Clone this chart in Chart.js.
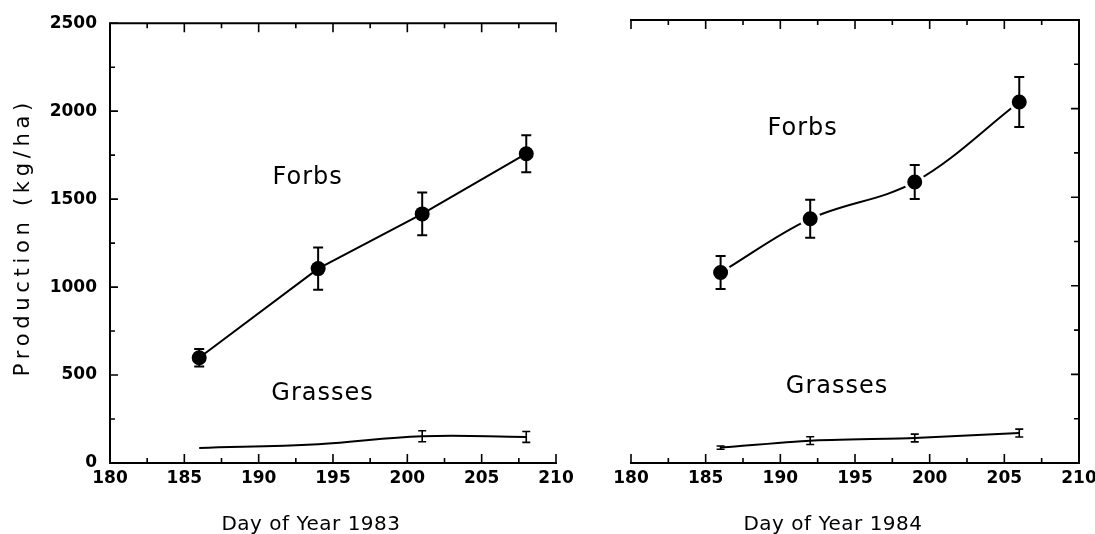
<!DOCTYPE html>
<html><head><meta charset="utf-8">
<script src="https://cdn.jsdelivr.net/npm/chart.js@4.4.1/dist/chart.umd.min.js"></script>
<style>
html,body{margin:0;padding:0;background:#fff;}
#wrap{position:relative;width:1095px;height:534px;overflow:hidden;}
canvas{position:absolute;top:0;}
</style></head><body>
<div id="wrap">
<canvas id="c1" width="580" height="534" style="left:0;width:580px;height:534px"></canvas>
<canvas id="c2" width="545" height="534" style="left:580px;width:545px;height:534px"></canvas>
</div>
<script>
// ---- data ----
const days1983 = [186, 194, 201, 208];
const forbs1983 = [598, 1105, 1416, 1758];
const forbsErr1983 = [50, 120, 122, 105];
const grasses1983 = [85, 107, 152, 148];
const grassesErr1983 = [0, 0, 31, 31];

const days1984 = [186, 192, 199, 206];
const forbs1984 = [1075, 1378, 1586, 2037];
const forbsErr1984 = [93, 107, 96, 141];
const grasses1984 = [87, 126, 141, 169];
const grassesErr1984 = [9, 22, 22, 22];

const xTickLabels = [180, 185, 190, 195, 200, 205, 210];
const yTickLabels = [0, 500, 1000, 1500, 2000, 2500];

const seriesNames = ['Forbs', 'Grasses'];
const xTitles = ['Day of Year 1983', 'Day of Year 1984'];
const yTitle = 'Production (kg/ha)';

// ---- helpers ----
const pts = (xs, ys) => xs.map((d, i) => ({x: d, y: ys[i]}));
const FONT = '"DejaVu Sans", sans-serif';

const errorBars = {
  id: 'errorBars',
  afterDatasetsDraw(chart) {
    const {ctx, scales: {x, y}} = chart;
    ctx.save();
    ctx.strokeStyle = '#000';
    chart.data.datasets.forEach(ds => {
      if (!ds.err) return;
      ctx.lineWidth = ds.errWidth;
      ds.data.forEach((p, i) => {
        const e = ds.err[i];
        if (!e) return;
        const px = x.getPixelForValue(p.x);
        const t = y.getPixelForValue(p.y + e), b = y.getPixelForValue(p.y - e);
        const c = ds.capHalf;
        ctx.beginPath();
        ctx.moveTo(px, t); ctx.lineTo(px, b);
        ctx.moveTo(px - c, t); ctx.lineTo(px + c, t);
        ctx.moveTo(px - c, b); ctx.lineTo(px + c, b);
        ctx.stroke();
      });
    });
    ctx.restore();
  }
};

const frame = {
  id: 'frame',
  afterDraw(chart, args, o) {
    const {ctx, chartArea: a, scales: {x, y}} = chart;
    ctx.save();
    ctx.strokeStyle = '#000';
    ctx.lineWidth = 2;
    ctx.lineCap = 'square';
    ctx.beginPath();
    ctx.moveTo(a.left, a.top); ctx.lineTo(a.right, a.top);
    ctx.moveTo(a.left, a.bottom); ctx.lineTo(a.right, a.bottom);
    const sx = o.side === 'left' ? a.left : a.right;
    ctx.moveTo(sx, a.top); ctx.lineTo(sx, a.bottom);
    ctx.stroke();
    ctx.lineWidth = 1.6;
    ctx.lineCap = 'butt';
    ctx.beginPath();
    const xt = xTickLabels;
    for (let i = 0; i < xt.length; i++) {
      const px = x.getPixelForValue(xt[i]);
      ctx.moveTo(px, a.bottom); ctx.lineTo(px, a.bottom - 9);
      ctx.moveTo(px, a.top); ctx.lineTo(px, a.top + 9);
      if (i < xt.length - 1) {
        const m = x.getPixelForValue((xt[i] + xt[i + 1]) / 2);
        ctx.moveTo(m, a.bottom); ctx.lineTo(m, a.bottom - 5);
        ctx.moveTo(m, a.top); ctx.lineTo(m, a.top + 5);
      }
    }
    const yt = yTickLabels;
    const dir = o.side === 'left' ? 1 : -1;
    for (let i = 0; i < yt.length; i++) {
      const py = y.getPixelForValue(yt[i]);
      ctx.moveTo(sx, py); ctx.lineTo(sx + dir * 8, py);
      if (i < yt.length - 1) {
        const m = y.getPixelForValue((yt[i] + yt[i + 1]) / 2);
        ctx.moveTo(sx, m); ctx.lineTo(sx + dir * 5, m);
      }
    }
    ctx.stroke();
    ctx.restore();
  }
};

const texts = {
  id: 'texts',
  afterDraw(chart, args, o) {
    const {ctx, chartArea: a, scales: {x, y}} = chart;
    ctx.save();
    ctx.fillStyle = '#000';
    ctx.textAlign = 'center';
    ctx.textBaseline = 'alphabetic';
    ctx.font = '24px ' + FONT;
    ctx.letterSpacing = '1px';
    o.labels.forEach(l => {
      ctx.fillText(l.text, x.getPixelForValue(l.x), y.getPixelForValue(l.y));
    });
    ctx.font = '20px ' + FONT;
    ctx.letterSpacing = '0.5px';
    ctx.fillText(o.xTitle, (a.left + a.right) / 2 - 22, 530);
    if (o.yTitle) {
      ctx.font = '21px ' + FONT;
      ctx.translate(29, (a.top + a.bottom) / 2 - 6);
      ctx.rotate(-Math.PI / 2);
      ctx.letterSpacing = '4.7px';
      ctx.fillText(o.yTitle, 0, 0);
    }
    ctx.restore();
  }
};

function makeChart(id, days, forbs, forbsErr, grasses, grassesErr, opts) {
  return new Chart(document.getElementById(id), {
    type: 'line',
    data: {
      datasets: [
        {
          label: seriesNames[0], data: pts(days, forbs), err: forbsErr,
          errWidth: 2, capHalf: 5,
          borderColor: '#000', borderWidth: 2, tension: opts.forbsTension,
          pointRadius: opts.pointRadius, pointBackgroundColor: '#000',
          pointBorderColor: opts.pointBorder, pointBorderWidth: opts.pointBorderWidth,
          fill: false
        },
        {
          label: seriesNames[1], data: pts(days, grasses), err: grassesErr,
          errWidth: 1.6, capHalf: 4,
          borderColor: '#000', borderWidth: 2, tension: opts.grassTension,
          pointRadius: 0, fill: false
        }
      ]
    },
    options: {
      responsive: false, animation: false, devicePixelRatio: 1,
      layout: {padding: opts.padding},
      plugins: {
        legend: {display: false}, tooltip: {enabled: false},
        frame: {side: opts.side},
        texts: {labels: opts.labels, xTitle: opts.xTitle, yTitle: opts.yTitle}
      },
      scales: {
        x: {
          type: 'linear', min: 180, max: 210,
          afterBuildTicks: s => { s.ticks = xTickLabels.map(v => ({value: v})); },
          afterFit: s => { s.height = 71; },
          grid: {display: false, drawTicks: false},
          border: {display: false},
          ticks: {padding: 5, color: '#000', font: {family: FONT, size: 17, weight: 'bold'},
                  maxRotation: 0, autoSkip: false, callback: v => String(v)}
        },
        y: {
          type: 'linear', min: 0, max: 2500, display: opts.showY,
          afterBuildTicks: s => { s.ticks = yTickLabels.map(v => ({value: v})); },
          afterFit: s => { s.width = opts.showY ? 110 : 0; },
          grid: {display: false, drawTicks: false},
          border: {display: false},
          ticks: {padding: 13, color: '#000', font: {family: FONT, size: 17, weight: 'bold'},
                  callback: v => String(v)}
        }
      }
    },
    plugins: [errorBars, frame, texts]
  });
}

makeChart('c1', days1983, forbs1983, forbsErr1983, grasses1983, grassesErr1983, {
  side: 'left', showY: true, forbsTension: 0, grassTension: 0.4,
  pointRadius: 7.5, pointBorder: '#000', pointBorderWidth: 0,
  padding: {left: 0, right: 24, top: 20, bottom: 0},
  labels: [{text: seriesNames[0], x: 193.3, y: 1586}, {text: seriesNames[1], x: 194.3, y: 356}],
  xTitle: xTitles[0], yTitle: yTitle
});
makeChart('c2', days1984, forbs1984, forbsErr1984, grasses1984, grassesErr1984, {
  side: 'right', showY: false, forbsTension: 0.35, grassTension: 0.2,
  pointRadius: 9, pointBorder: '#fff', pointBorderWidth: 3,
  padding: {left: 51, right: 46, top: 20, bottom: 0},
  labels: [{text: seriesNames[0], x: 191.5, y: 1851}, {text: seriesNames[1], x: 193.8, y: 395}],
  xTitle: xTitles[1], yTitle: null
});
</script>
</body></html>
